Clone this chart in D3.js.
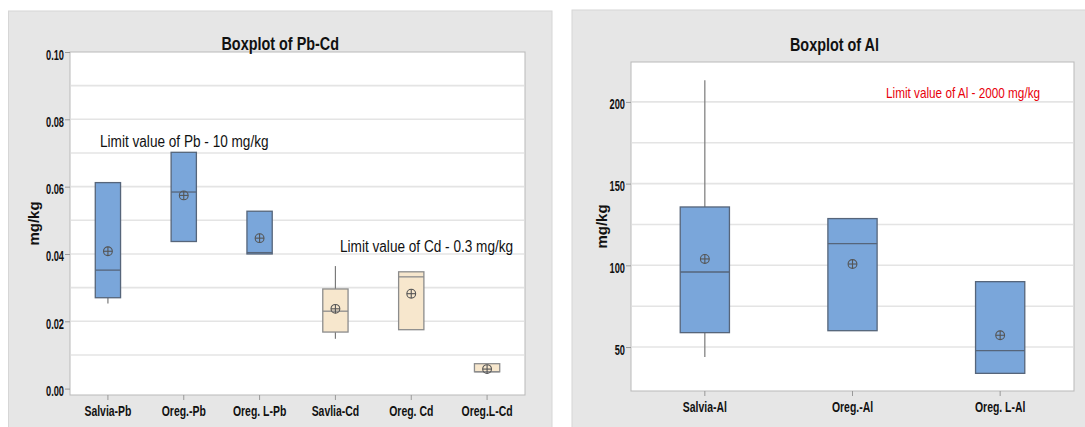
<!DOCTYPE html>
<html>
<head>
<meta charset="utf-8">
<script src="https://cdn.jsdelivr.net/npm/d3@7"></script>
<style>
  body { margin: 0; background: #fff; }
  svg { display: block; }
  text { font-family: "Liberation Sans", Arial, sans-serif; fill: #111; }
</style>
</head>
<body>
<svg id="chart" width="1085" height="427"></svg>
<script>
// Boxplot of Pb-Cd
const pbCdCategories = ["Salvia-Pb", "Oreg.-Pb", "Oreg. L-Pb", "Savlia-Cd", "Oreg. Cd", "Oreg.L-Cd"];
const pbCdGroup  = ["Pb", "Pb", "Pb", "Cd", "Cd", "Cd"];
const pbCdMin    = [0.0253, 0.0437, 0.0400, 0.0148, 0.0175, 0.0050];
const pbCdQ1     = [0.0270, 0.0437, 0.0400, 0.0168, 0.0175, 0.0050];
const pbCdMedian = [0.0352, 0.0584, 0.0404, 0.0230, 0.0332, 0.0050];
const pbCdQ3     = [0.0612, 0.0702, 0.0527, 0.0296, 0.0347, 0.0074];
const pbCdMax    = [0.0612, 0.0702, 0.0527, 0.0364, 0.0347, 0.0074];
const pbCdMean   = [0.0408, 0.0574, 0.0447, 0.0237, 0.0282, 0.0058];
const pbCdTicks  = [0, 0.02, 0.04, 0.06, 0.08, 0.10];
const pbCdGrid   = [0.01, 0.02, 0.03, 0.04, 0.05, 0.06, 0.07, 0.08, 0.09];

// Boxplot of Al
const alCategories = ["Salvia-Al", "Oreg.-Al", "Oreg. L-Al"];
const alGroup  = ["Al", "Al", "Al"];
const alMin    = [43.9, 60.0, 33.9];
const alQ1     = [58.8, 60.0, 33.9];
const alMedian = [95.9, 113.3, 47.8];
const alQ3     = [135.7, 128.6, 90.0];
const alMax    = [213.2, 128.6, 90.0];
const alMean   = [103.9, 100.8, 57.2];
const alTicks  = [50, 100, 150, 200];
const alGrid   = [50, 75, 100, 125, 150, 175, 200];

const fillColor = { Pb: "#7aa6da", Al: "#7aa6da", Cd: "#f7e7cd" };
const boxStroke = { Pb: "#56657a", Al: "#56657a", Cd: "#8c8c8c" };

const svg = d3.select("#chart");

// the original uses a condensed face; squeeze the glyphs horizontally
function squeeze(sel, f) {
  sel.each(function() {
    const w = this.getComputedTextLength();
    d3.select(this).attr("textLength", w * f).attr("lengthAdjust", "spacingAndGlyphs");
  });
}

function drawPanel(cfg) {
  const g = svg.append("g");

  // panel background
  g.append("rect")
    .attr("x", cfg.panel[0]).attr("y", cfg.panel[1])
    .attr("width", cfg.panel[2]).attr("height", cfg.panel[3])
    .attr("fill", "#e6e6e6")
    .attr("stroke", "#d6d6d6");

  const x = d3.scaleBand().domain(cfg.categories).range([cfg.left, cfg.right]).padding(0);
  const y = d3.scaleLinear().domain(cfg.yDomain).range([cfg.bottom, cfg.top]);

  // plot area
  g.append("rect")
    .attr("x", cfg.left).attr("y", cfg.top)
    .attr("width", cfg.right - cfg.left).attr("height", cfg.bottom - cfg.top)
    .attr("fill", "#fff")
    .attr("stroke", "#b9b9b9");

  // gridlines
  g.selectAll(".grid").data(cfg.grid).enter()
    .append("line")
    .attr("x1", cfg.left + 1).attr("x2", cfg.right - 1)
    .attr("y1", d => y(d)).attr("y2", d => y(d))
    .attr("stroke", "#e4e4e4")
    .attr("stroke-width", 1.6);

  // axes
  const yAxis = g.append("g")
    .attr("transform", `translate(${cfg.left},0)`)
    .call(d3.axisLeft(y).tickValues(cfg.ticks).tickFormat(cfg.fmt).tickSize(5).tickPadding(1));
  yAxis.select(".domain").remove();
  yAxis.selectAll("line").attr("stroke", "#999");
  yAxis.selectAll("text")
    .attr("dy", "0.5em")
    .style("font-size", "14px").style("font-weight", "bold").attr("fill", "#111")
    .call(squeeze, 0.66);

  const xAxis = g.append("g")
    .attr("transform", `translate(0,${cfg.bottom})`)
    .call(d3.axisBottom(x).tickSize(5).tickPadding(6));
  xAxis.select(".domain").remove();
  xAxis.selectAll("line").attr("stroke", "#999");
  xAxis.selectAll("text")
    .style("font-size", "14.5px").style("font-weight", "bold").attr("fill", "#111")
    .call(squeeze, 0.72);

  // title
  g.append("text")
    .attr("x", cfg.panel[0] + cfg.panel[2] / 2).attr("y", cfg.titleY)
    .attr("text-anchor", "middle")
    .style("font-size", "18px").style("font-weight", "bold")
    .text(cfg.title)
    .call(squeeze, 0.8);

  // y label
  g.append("text")
    .attr("transform", `translate(${cfg.yLabelX},${(cfg.top + cfg.bottom) / 2}) rotate(-90)`)
    .attr("text-anchor", "middle")
    .attr("dy", "0.35em")
    .style("font-size", "15px").style("font-weight", "bold")
    .text("mg/kg");

  const rows = cfg.categories.map((c, i) => ({
    cat: c, group: cfg.group[i],
    min: cfg.min[i], q1: cfg.q1[i], med: cfg.median[i], q3: cfg.q3[i], max: cfg.max[i], mean: cfg.mean[i]
  }));
  const bw = x.bandwidth() / 3;
  const cx = d => x(d.cat) + x.bandwidth() / 2;

  const box = g.selectAll(".box").data(rows).enter().append("g");

  // whiskers
  box.append("line")
    .attr("x1", cx).attr("x2", cx)
    .attr("y1", d => y(d.q3)).attr("y2", d => y(d.max))
    .attr("stroke", "#7a7a7a").attr("stroke-width", 1.2);
  box.append("line")
    .attr("x1", cx).attr("x2", cx)
    .attr("y1", d => y(d.q1)).attr("y2", d => y(d.min))
    .attr("stroke", "#7a7a7a").attr("stroke-width", 1.2);

  // boxes
  box.append("rect")
    .attr("x", d => cx(d) - bw / 2)
    .attr("width", bw)
    .attr("y", d => y(d.q3))
    .attr("height", d => Math.max(1, y(d.q1) - y(d.q3)))
    .attr("fill", d => fillColor[d.group])
    .attr("stroke", d => boxStroke[d.group])
    .attr("stroke-width", 1.3);

  // medians
  box.append("line")
    .attr("x1", d => cx(d) - bw / 2).attr("x2", d => cx(d) + bw / 2)
    .attr("y1", d => y(d.med)).attr("y2", d => y(d.med))
    .attr("stroke", d => boxStroke[d.group]).attr("stroke-width", 1.3);

  // mean symbols (circle with cross)
  const r = 4.4;
  const m = box.append("g")
    .attr("transform", d => `translate(${cx(d)},${y(d.mean)})`)
    .attr("stroke", "#555").attr("stroke-width", 1.1).attr("fill", "none");
  m.append("circle").attr("r", r);
  m.append("line").attr("x1", -r).attr("x2", r);
  m.append("line").attr("y1", -r).attr("y2", r);

  // annotations
  cfg.notes.forEach(n => {
    g.append("text")
      .attr("x", n.x).attr("y", n.y)
      .style("font-size", n.size + "px")
      .style("fill", n.color || "#111")
      .text(n.text)
      .call(squeeze, n.squeeze);
  });
}

drawPanel({
  panel: [8.5, 11, 543.5, 420],
  left: 70, right: 525, top: 52, bottom: 395,
  yDomain: [-0.0019, 0.10],
  categories: pbCdCategories, group: pbCdGroup,
  min: pbCdMin, q1: pbCdQ1, median: pbCdMedian, q3: pbCdQ3, max: pbCdMax, mean: pbCdMean,
  ticks: pbCdTicks, grid: pbCdGrid, fmt: d3.format(".2f"),
  title: "Boxplot of Pb-Cd", titleY: 50, yLabelX: 34,
  notes: [
    { text: "Limit value of Pb - 10 mg/kg", x: 100, y: 147, size: 16, squeeze: 0.85 },
    { text: "Limit value of Cd - 0.3 mg/kg", x: 340, y: 252, size: 16, squeeze: 0.85 }
  ]
});

drawPanel({
  panel: [572, 10, 525, 421],
  left: 631, right: 1074, top: 62, bottom: 391,
  yDomain: [23.1, 224.4],
  categories: alCategories, group: alGroup,
  min: alMin, q1: alQ1, median: alMedian, q3: alQ3, max: alMax, mean: alMean,
  ticks: alTicks, grid: alGrid, fmt: d3.format("d"),
  title: "Boxplot of Al", titleY: 51, yLabelX: 602,
  notes: [
    { text: "Limit value of Al - 2000 mg/kg", x: 886, y: 98, size: 14.5, color: "#e8000b", squeeze: 0.81 }
  ]
});
</script>
</body>
</html>
